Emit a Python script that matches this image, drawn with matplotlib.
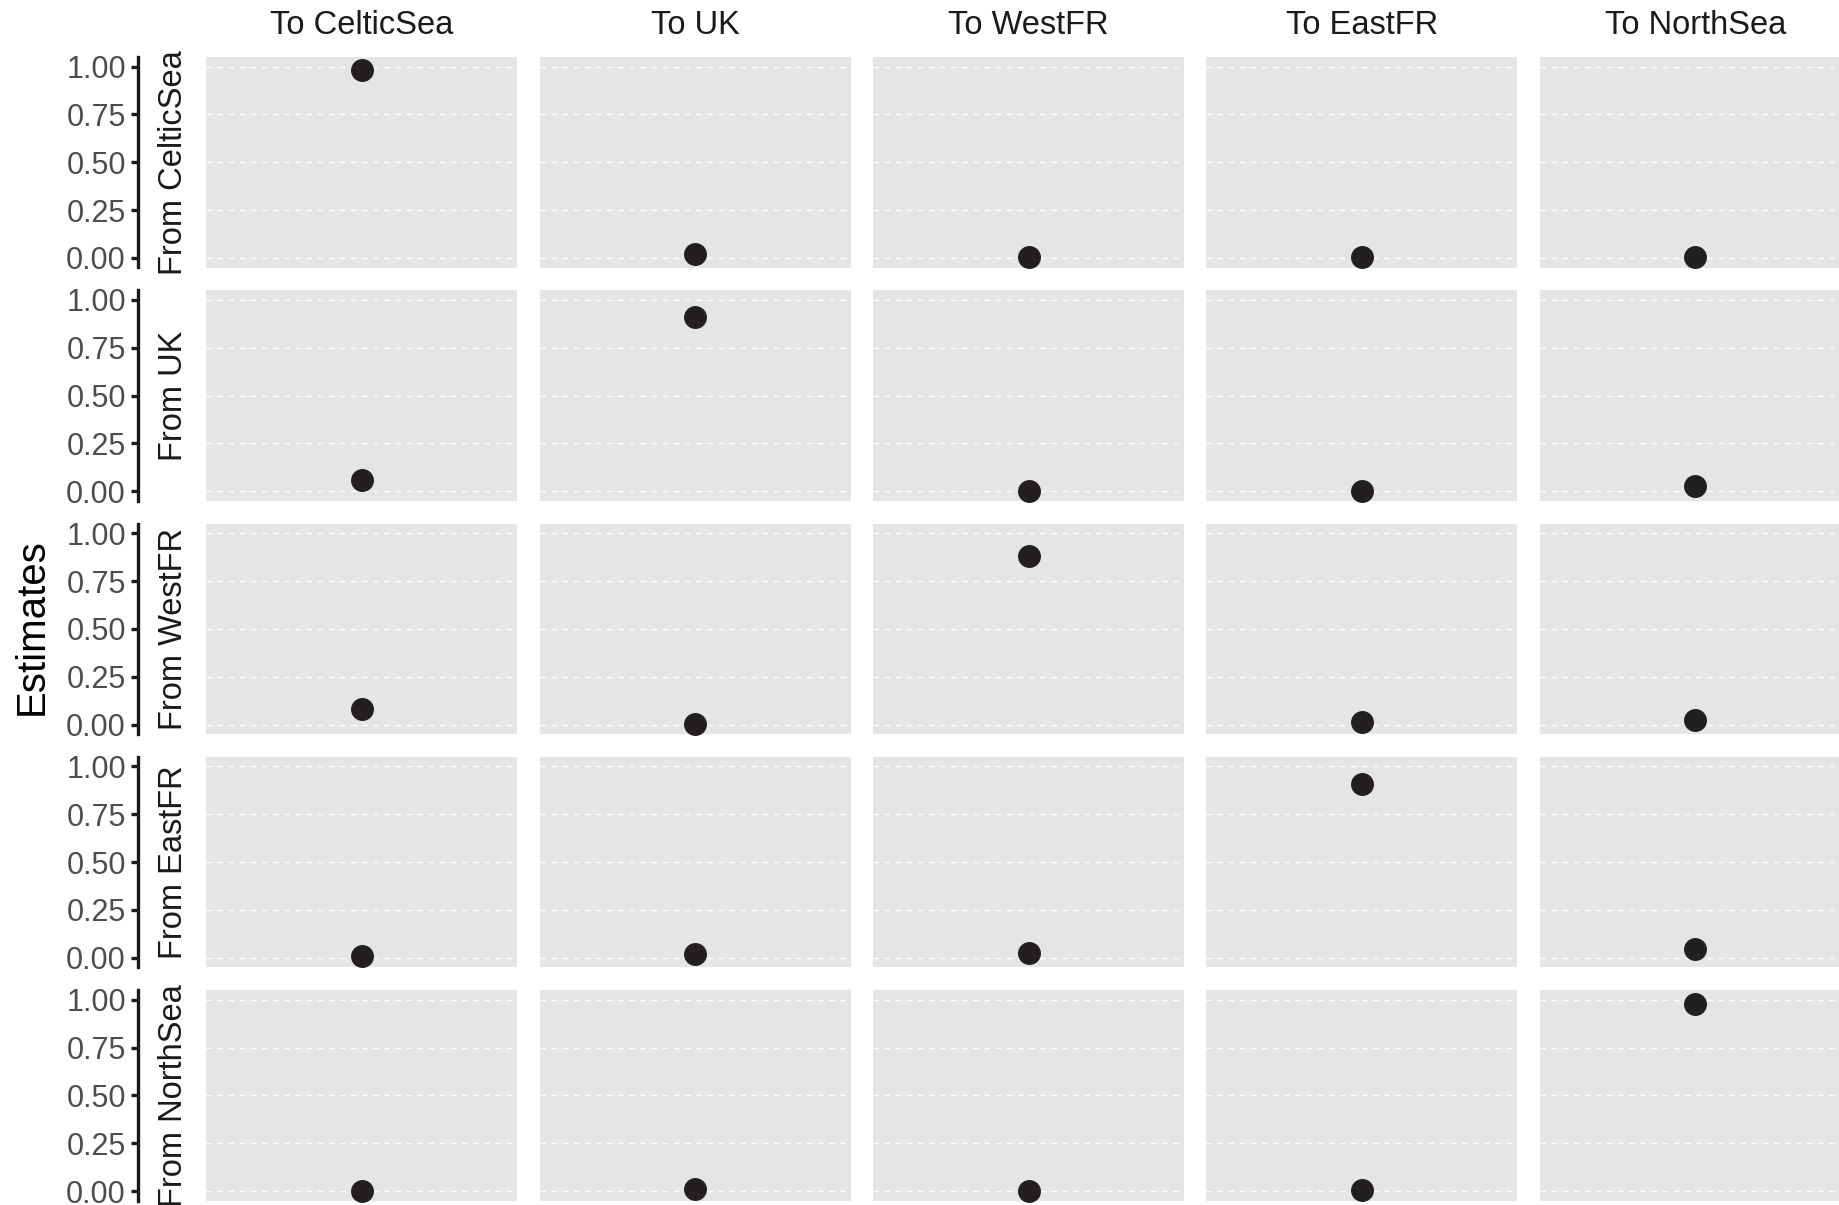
import numpy as np
import matplotlib
matplotlib.use('Agg')
import matplotlib.pyplot as plt

plt.rcParams['font.family'] = ['Liberation Sans', 'DejaVu Sans']

regions = ["CelticSea", "UK", "WestFR", "EastFR", "NorthSea"]
col_labels = ["To " + r for r in regions]
row_labels = ["From " + r for r in regions]

# estimates[from][to]
from_celticsea = [0.982, 0.018, 0.006, 0.005, 0.005]
from_uk = [0.060, 0.909, 0.001, 0.001, 0.025]
from_westfr = [0.079, 0.001, 0.879, 0.012, 0.024]
from_eastfr = [0.012, 0.018, 0.024, 0.909, 0.048]
from_northsea = [0.001, 0.012, 0.001, 0.006, 0.980]
estimates = [from_celticsea, from_uk, from_westfr, from_eastfr, from_northsea]

yticks = [0.0, 0.25, 0.5, 0.75, 1.0]
ytick_labels = ["0.00", "0.25", "0.50", "0.75", "1.00"]

W, H = 1840, 1205
fig = plt.figure(figsize=(W / 100, H / 100), dpi=100)

# panel layout in pixels
left0, col_step, pw = 206.5, 333.3, 311
top0, row_step, ph = 57, 233.3, 210.5

bg = "#E4E5E7"
dot = "#231F20"

for i in range(5):
    for j in range(5):
        x0 = left0 + j * col_step
        y0 = top0 + i * row_step
        ax = fig.add_axes([x0 / W, 1 - (y0 + ph) / H, pw / W, ph / H])
        ax.set_facecolor(bg)
        ax.plot([0], [estimates[i][j]], 'o', color=dot, ms=15.5, zorder=3,
                clip_on=False)
        ax.set_xlim(-1, 1)
        ax.set_ylim(-0.05, 1.05)
        ax.set_yticks(yticks)
        ax.set_xticks([])
        for y in yticks:
            ax.axhline(y, color="white", lw=1.0, ls=(0, (4, 4)), zorder=1)
        for s in ["top", "right", "bottom"]:
            ax.spines[s].set_visible(False)
        if j == 0:
            ax.spines["left"].set_position(("outward", 49))
            ax.spines["left"].set_linewidth(2.4)
            ax.spines["left"].set_color("#1a1a1a")
            ax.set_yticklabels(ytick_labels)
            ax.tick_params(axis="y", length=5, width=2.4, color="#1a1a1a",
                           labelsize=22, labelcolor="#4D4D4D", pad=4)
            fig.text(173.7 / W, 1 - (y0 + ph / 2) / H, row_labels[i],
                     rotation=90, ha="center", va="center", fontsize=23.5,
                     color="#1a1a1a")
        else:
            ax.spines["left"].set_visible(False)
            ax.tick_params(axis="y", length=0, labelleft=False)
        if i == 0:
            fig.text((x0 + pw / 2) / W, 1 - 25 / H, col_labels[j],
                     ha="center", va="center", fontsize=23.5, color="#1a1a1a")

fig.text(32 / W, 1 - 627 / H, "Estimates", rotation=90, ha="center",
         va="center", fontsize=29, color="black")

plt.savefig("out.png", dpi=100)
